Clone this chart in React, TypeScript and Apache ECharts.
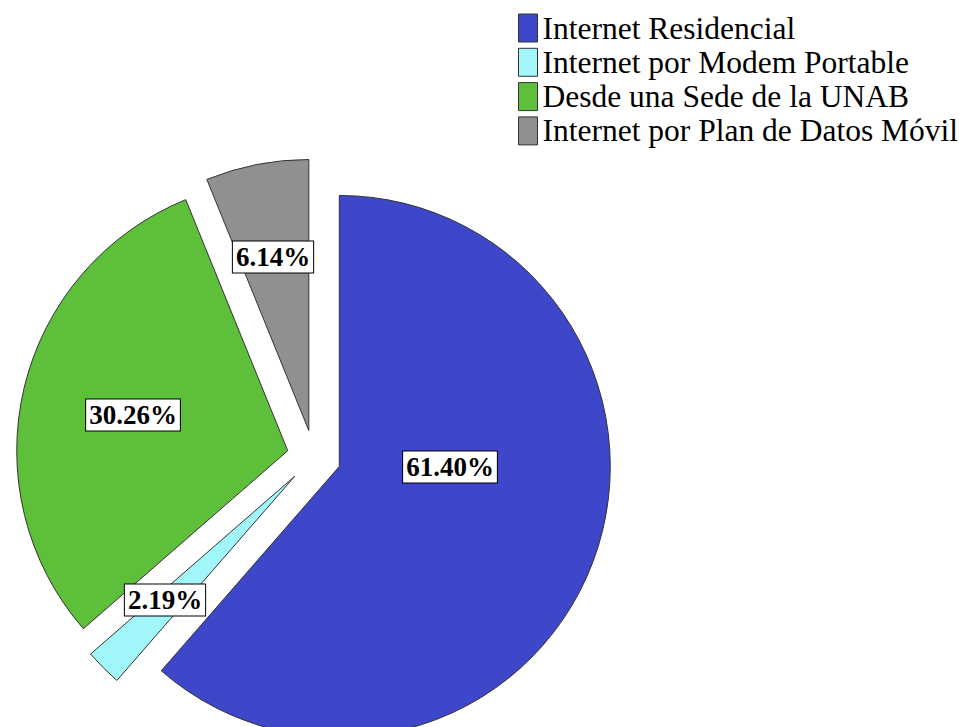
import React, { useEffect, useRef } from "react";
import * as echarts from "echarts";

const categories = [
  "Internet Residencial",
  "Internet por Modem Portable",
  "Desde una Sede de la UNAB",
  "Internet por Plan de Datos Móvil",
];
const percentages = [61.4, 2.19, 30.26, 6.14];
const colors = ["#3e47c9", "#a0f6f8", "#5dbf3a", "#928f8f"];
// label anchor positions (layout only)
const labelPositions: [number, number][] = [
  [450, 467],
  [165, 600],
  [133, 415],
  [273, 257],
];

const serif = "'Times New Roman', 'Liberation Serif', serif";

export default function App() {
  const ref = useRef<HTMLDivElement>(null);
  useEffect(() => {
    if (!ref.current) return;
    const chart = echarts.init(ref.current, undefined, { renderer: "svg" });
    chart.setOption({
      animation: false,
      backgroundColor: "#ffffff",
      legend: {
        orient: "vertical",
        left: 518,
        top: 12,
        padding: 0,
        itemWidth: 19,
        itemHeight: 28,
        itemGap: 2.3,
        icon: "rect",
        selectedMode: false,
        itemStyle: { borderColor: "#333", borderWidth: 1 },
        textStyle: {
          fontFamily: serif,
          fontSize: 31.5,
          color: "#000",
        },
        data: categories,
      },
      graphic: percentages.map((v, i) => ({
        type: "text",
        x: labelPositions[i][0],
        y: labelPositions[i][1],
        z: 100,
        style: {
          text: v.toFixed(2) + "%",
          font: `bold 27px ${serif}`,
          fill: "#000",
          align: "center",
          verticalAlign: "middle",
          backgroundColor: "#fff",
          borderColor: "#000",
          borderWidth: 1,
          padding: [3, 3, 1, 3],
        },
      })),
      series: [
        {
          type: "pie",
          center: [314, 457],
          radius: 271,
          startAngle: 90,
          clockwise: true,
          selectedMode: "multiple",
          selectedOffset: 27,
          avoidLabelOverlap: false,
          itemStyle: { borderColor: "#333", borderWidth: 1 },
          emphasis: { disabled: true },
          label: { show: false },
          labelLine: { show: false },
          data: categories.map((name, i) => ({
            name,
            value: percentages[i],
            selected: true,
            itemStyle: { color: colors[i] },
            select: { itemStyle: { color: colors[i], borderColor: "#333", borderWidth: 1 } },
          })),
        },
      ],
    });
    return () => chart.dispose();
  }, []);
  return (
    <div
      ref={ref}
      style={{ position: "absolute", left: 0, top: 0, width: 959, height: 727 }}
    />
  );
}
